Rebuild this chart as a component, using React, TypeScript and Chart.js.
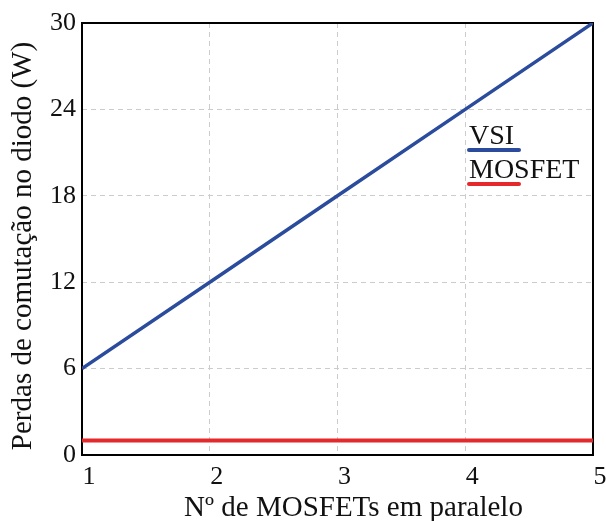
import React, { useEffect, useRef } from "react";
import { Chart, registerables } from "chart.js";

Chart.register(...registerables);

// Number of paralleled MOSFETs and diode switching losses (W)
const nMosfets = [1, 2, 3, 4, 5];
const vsiLoss = [6, 12, 18, 24, 30];
const mosfetLoss = [1, 1, 1, 1, 1];
const seriesLabels = ["VSI", "MOSFET"];
const seriesColors = ["#2b4c9c", "#e3292b"];
const xTitle = "Nº de MOSFETs em paralelo";
const yTitle = "Perdas de comutação no diodo (W)";

const FONT = "'Liberation Serif', 'Times New Roman', serif";
const INK = "#111111";

// Draws the plot frame, axis titles and the in-plot legend (label with a coloured rule beneath)
const decorations = {
  id: "decorations",
  beforeDatasetsDraw(chart: any) {
    const { ctx, chartArea: a } = chart;
    ctx.save();
    ctx.strokeStyle = "#000";
    ctx.lineWidth = 2;
    ctx.strokeRect(a.left, a.top, a.right - a.left, a.bottom - a.top);
    ctx.restore();
  },
  afterDraw(chart: any) {
    const { ctx, chartArea: a } = chart;
    ctx.save();
    ctx.fillStyle = INK;
    ctx.font = `29px ${FONT}`;
    ctx.textAlign = "center";
    ctx.textBaseline = "alphabetic";
    ctx.fillText(xTitle, (a.left + a.right) / 2 + 16, 516);

    ctx.save();
    ctx.translate(31, (a.top + a.bottom) / 2 + 7);
    ctx.rotate(-Math.PI / 2);
    ctx.fillText(yTitle, 0, 0);
    ctx.restore();

    // legend
    ctx.font = `28px ${FONT}`;
    ctx.textAlign = "left";
    const lx = 469;
    chart.data.datasets.forEach((ds: any, i: number) => {
      const base = 144 + i * 34;
      ctx.fillStyle = INK;
      ctx.fillText(ds.label, lx, base);
      ctx.strokeStyle = ds.borderColor;
      ctx.lineWidth = 4;
      ctx.lineCap = "round";
      ctx.beginPath();
      ctx.moveTo(lx, base + 6);
      ctx.lineTo(lx + 50, base + 6);
      ctx.stroke();
    });
    ctx.restore();
  },
};

function gridColor(c: any) {
  const s = c.scale;
  if (!c.tick) return "transparent";
  const v = c.tick.value;
  return v === s.min || v === s.max ? "transparent" : "#cccccc";
}

export default function App() {
  const ref = useRef<HTMLCanvasElement | null>(null);

  useEffect(() => {
    document.body.style.margin = "0";
    const canvas = ref.current;
    if (!canvas) return;
    const chart = new Chart(canvas, {
      type: "line",
      data: {
        datasets: [
          {
            label: seriesLabels[0],
            data: nMosfets.map((x, i) => ({ x, y: vsiLoss[i] })),
            borderColor: seriesColors[0],
            backgroundColor: seriesColors[0],
            borderWidth: 3.5,
            pointRadius: 0,
            tension: 0,
          },
          {
            label: seriesLabels[1],
            data: nMosfets.map((x, i) => ({ x, y: mosfetLoss[i] })),
            borderColor: seriesColors[1],
            backgroundColor: seriesColors[1],
            borderWidth: 4,
            pointRadius: 0,
            tension: 0,
          },
        ],
      },
      plugins: [decorations],
      options: {
        animation: false,
        responsive: false,
        devicePixelRatio: 1,
        layout: { padding: { top: 23, right: 13, left: 0, bottom: 0 } },
        plugins: {
          legend: { display: false },
          tooltip: { enabled: false },
        },
        scales: {
          x: {
            type: "linear",
            min: 1,
            max: 5,
            ticks: {
              stepSize: 1,
              color: INK,
              font: { family: FONT, size: 26 },
              padding: 7,
              labelOffset: 7,
            },
            grid: { color: gridColor, lineWidth: 1, drawTicks: false },
            border: { display: false, dash: [5, 4] },
            afterFit(s: any) {
              s.height = 66;
              s.paddingLeft = 0;
              s.paddingRight = 0;
            },
          },
          y: {
            min: 0,
            max: 30,
            ticks: {
              stepSize: 6,
              color: INK,
              font: { family: FONT, size: 26 },
              padding: 6,
            },
            grid: { color: gridColor, lineWidth: 1, drawTicks: false },
            border: { display: false, dash: [5, 4] },
            afterFit(s: any) {
              s.width = 82;
              s.paddingTop = 0;
              s.paddingBottom = 0;
            },
          },
        },
      },
    });
    return () => chart.destroy();
  }, []);

  return <canvas ref={ref} width={606} height={521} style={{ display: "block" }} />;
}
